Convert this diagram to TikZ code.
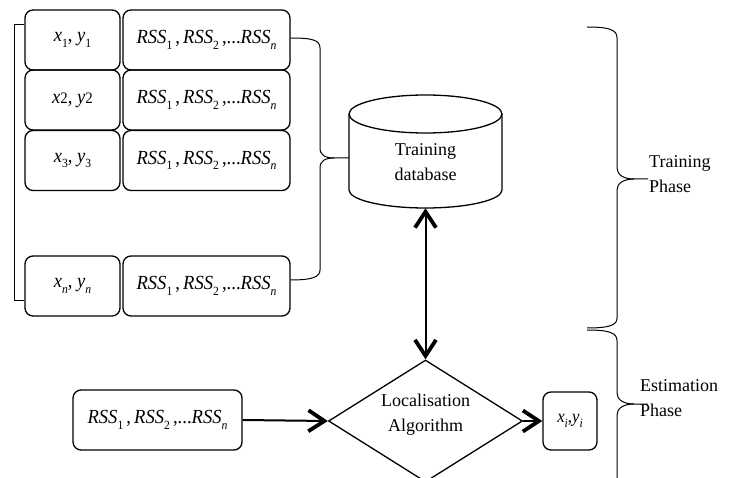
\documentclass[tikz,border=0pt]{standalone}
\usepackage{fontspec}
\setmainfont{Liberation Serif}
\usetikzlibrary{arrows.meta,shapes.geometric}
\newcommand\lowsub[1]{\raisebox{-0.27em}{\fontsize{12.5}{12.5}\selectfont #1}}
\newcommand\mathtxt[1]{\scalebox{0.93}[1]{\fontsize{20}{20}\selectfont #1}}
\newcommand\rsslist{\mathtxt{\textit{RSS}\lowsub{1}\,,\,\textit{RSS}\lowsub{2}\,,...\textit{RSS}\lowsub{\textit{n}}}}
\begin{document}
\begin{tikzpicture}[x=1pt,y=-1pt,
  box/.style={draw, line width=1.3pt, rounded corners=8pt, inner sep=0pt, align=center},
  lbl/.style={inner sep=0pt, align=center, font=\fontsize{18}{25}\selectfont},
  brace/.style={line width=1pt},
  head/.style={line width=2pt, -{Straight Barb[length=16pt,width=21pt,line width=3.8pt]}},
  dhead/.style={line width=2pt, {Straight Barb[length=16pt,width=21pt,line width=3.8pt]}-{Straight Barb[length=16pt,width=21pt,line width=3.8pt]}}]
\useasboundingbox (0,0) rectangle (739,478);
\fill[white] (0,0) rectangle (739,478);
% training rows
\node[box, minimum width=95pt, minimum height=60pt] (l1) at (72.5,40) {\mathtxt{\textit{x}\lowsub{1}, \textit{y}\lowsub{1}}};
\node[box, minimum width=167pt, minimum height=60pt] (r1) at (206.5,40) {\rsslist};
\node[box, minimum width=95pt, minimum height=60pt] (l2) at (72.5,100) {\mathtxt{\textit{x}{\fontsize{16}{16}\selectfont 2}, \textit{y}{\fontsize{16}{16}\selectfont 2}}};
\node[box, minimum width=167pt, minimum height=60pt] (r2) at (206.5,100) {\rsslist};
\node[box, minimum width=95pt, minimum height=60pt] (l3) at (72.5,160.5) {\mathtxt{\textit{x}\lowsub{3}, \textit{y}\lowsub{3}}};
\node[box, minimum width=167pt, minimum height=60pt] (r3) at (206.5,160.5) {\rsslist};
\node[box, minimum width=95pt, minimum height=60pt] (ln) at (72.5,286) {\mathtxt{\textit{x}\lowsub{\textit{n}}, \textit{y}\lowsub{\textit{n}}}};
\node[box, minimum width=167pt, minimum height=60pt] (rn) at (206.5,286) {\rsslist};
% left bracket
\draw[brace] (l1.west |- 0,25) -- (14,25) -- (14,301) -- (ln.west |- 0,301);
% database cylinder
\node[minimum width=153pt, minimum height=113pt, inner sep=0pt] (db) at (425.5,151.5) {};
\draw[line width=1.3pt] (425.5,114) ellipse [x radius=76.5pt, y radius=19pt];
\draw[line width=1.3pt] (349,114) -- (349,190) arc[start angle=180, end angle=360, x radius=76.5pt, y radius=18pt] -- (502,114);
\node[lbl] (dbt) at (425.5,162) {Training\\database};
% brace from rows to database
\draw[brace] (r1.east |- 0,38) .. controls (312,38) and (320,40) .. (320,48) -- (320,148) .. controls (320,155) and (325,158) .. (334,158) -- (db.west |- 0,158);
\draw[brace] (334,158) .. controls (325,158) and (320,161) .. (320,168) -- (320,270) .. controls (320,277) and (312,280) .. (rn.east |- 0,280);
% estimation
\node[diamond, draw, line width=1.3pt, minimum width=194pt, minimum height=122pt, aspect=1.59, inner sep=0pt] (diam) at (425.5,421) {};
\node[lbl] (diamt) at (425.5,415) {Localisation\\Algorithm};
\node[box, minimum width=169pt, minimum height=60pt] (rssq) at (157.5,420) {\rsslist};
\node[box, minimum width=54pt, minimum height=58pt] (xi) at (570,421) {\scalebox{0.93}[1]{\fontsize{18}{18}\selectfont\textit{x}\lowsub{\textit{i}},\textit{y}\lowsub{\textit{i}}}};
\draw[dhead] (db.south) -- (diam.north);
\draw[head] (rssq.east) -- (diam.west);
\draw[head] (diam.east) -- (xi.west);
% phase braces
\draw[brace] (587,27) .. controls (610,27) and (617,30) .. (617,38) -- (617,168) .. controls (617,175) and (624,179) .. (634,179) -- (648,179);
\draw[brace] (634,179) .. controls (624,179) and (617,183) .. (617,190) -- (617,318) .. controls (617,325) and (610,328) .. (587,328);
\draw[brace] (587,330) .. controls (610,330) and (617,333) .. (617,341) -- (617,393) .. controls (617,400) and (624,404) .. (634,404) -- (648,404);
\draw[brace] (634,404) .. controls (624,404) and (617,408) .. (617,415) -- (617,490);
\node[lbl, anchor=west, align=left] (tp) at (649,174.5) {Training\\Phase};
\node[lbl, anchor=west, align=left] (ep) at (640,398.5) {Estimation\\Phase};
\end{tikzpicture}
\end{document}
